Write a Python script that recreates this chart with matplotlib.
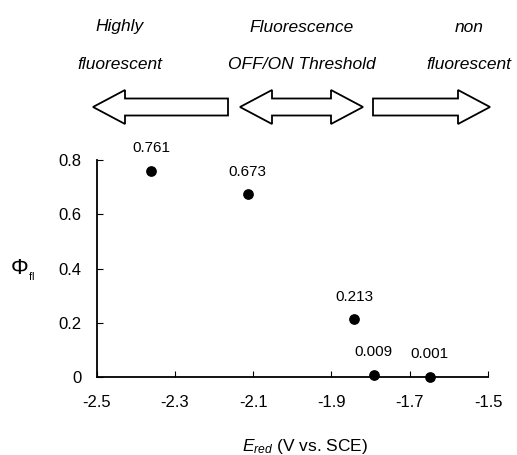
import numpy as np
import matplotlib
matplotlib.use("Agg")
import matplotlib.pyplot as plt
from matplotlib.patches import Polygon

plt.rcParams['font.family'] = ['Liberation Sans', 'DejaVu Sans']
plt.rcParams['mathtext.fontset'] = 'custom'
plt.rcParams['mathtext.rm'] = 'Liberation Sans'
plt.rcParams['mathtext.it'] = 'Liberation Sans:italic'

# data
e_red = [-2.361, -2.114, -1.842, -1.792, -1.649]
phi_fl = [0.761, 0.673, 0.213, 0.009, 0.001]
point_labels = ["0.761", "0.673", "0.213", "0.009", "0.001"]
xticks = [-2.5, -2.3, -2.1, -1.9, -1.7, -1.5]
yticks = [0, 0.2, 0.4, 0.6, 0.8]
ytick_labels = ["0", "0.2", "0.4", "0.6", "0.8"]

W, H = 517, 455
fig = plt.figure(figsize=(W / 100, H / 100), dpi=100)
ax = fig.add_axes([96.7 / W, 1 - 377 / H, (488 - 96.7) / W, (377 - 160) / H])

ax.scatter(e_red, phi_fl, s=45, color='black', zorder=3, clip_on=False)
for x, y, lab in zip(e_red, phi_fl, point_labels):
    ax.annotate(lab, (x, y), xytext=(0, 11), textcoords='offset points',
                ha='center', va='bottom', fontsize=11)

ax.set_xlim(-2.5, -1.5)
ax.set_ylim(0, 0.8)
ax.set_xticks(xticks)
ax.set_xticklabels([str(t) for t in xticks])
ax.set_yticks(yticks)
ax.set_yticklabels(ytick_labels)
ax.tick_params(direction='in', length=4, labelsize=12)
ax.tick_params(axis='x', pad=13)
ax.tick_params(axis='y', pad=11)
for s in ['top', 'right']:
    ax.spines[s].set_visible(False)
for s in ['left', 'bottom']:
    ax.spines[s].set_linewidth(1.3)

fig.text(305 / W, 1 - 447 / H, r'$E_{red}$ (V vs. SCE)', ha='center', va='center', fontsize=12.5)
fig.text(22 / W, 1 - 270 / H, r'$\Phi_{_{\mathrm{fl}}}$', ha='center', va='center', fontsize=16)

# header texts
heads = [(120, "Highly", "fluorescent"),
         (302, "Fluorescence", "OFF/ON Threshold"),
         (469, "non", "fluorescent")]
for xc, l1, l2 in heads:
    fig.text(xc / W, 1 - 27 / H, l1, ha='center', va='center', style='italic', fontsize=12.5)
    fig.text(xc / W, 1 - 65 / H, l2, ha='center', va='center', style='italic', fontsize=12.5)


def arrow_poly(x0, x1, left, right, yc=107, hw=17, bw=8.5, hl=32):
    # outline of a block arrow in pixel coords, x0 < x1
    pts = []
    if left:
        pts += [(x0, yc), (x0 + hl, yc + hw), (x0 + hl, yc + bw)]
    else:
        pts += [(x0, yc + bw)]
    if right:
        pts += [(x1 - hl, yc + bw), (x1 - hl, yc + hw), (x1, yc), (x1 - hl, yc - hw), (x1 - hl, yc - bw)]
    else:
        pts += [(x1, yc + bw), (x1, yc - bw)]
    if left:
        pts += [(x0 + hl, yc - bw), (x0 + hl, yc - hw)]
    else:
        pts += [(x0, yc - bw)]
    return [(px / W, 1 - py / H) for px, py in pts]


for x0, x1, l, r in [(93, 228, True, False), (240, 363, True, True), (373, 490, False, True)]:
    fig.patches.append(Polygon(arrow_poly(x0, x1, l, r), closed=True, fc='white', ec='black',
                               lw=1.3, transform=fig.transFigure, figure=fig))

fig.savefig("out.png", dpi=100)
